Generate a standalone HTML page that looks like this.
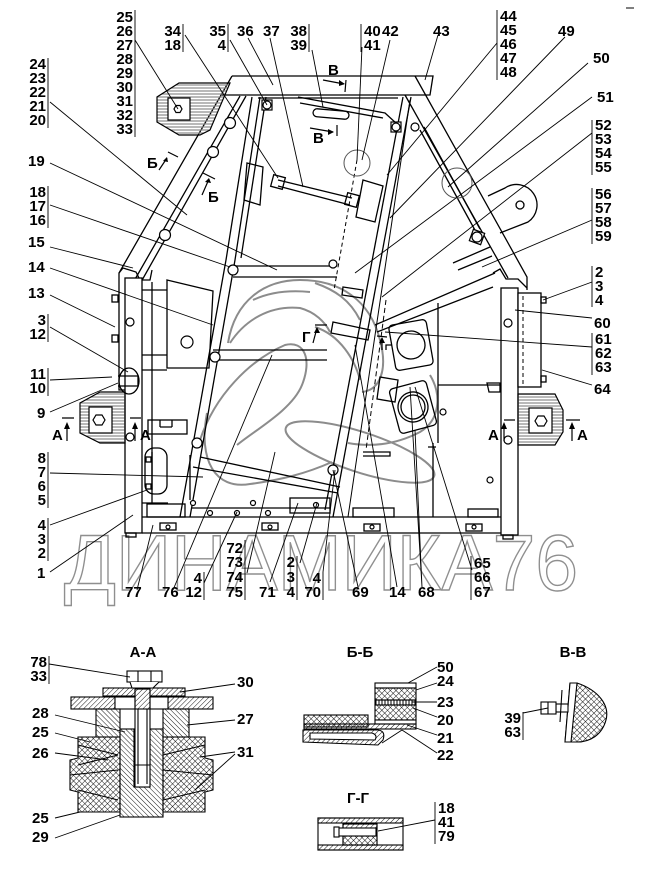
<!DOCTYPE html>
<html><head><meta charset="utf-8"><style>
html,body{margin:0;padding:0;background:#fff;}
svg{display:block;}
.t{font-family:"Liberation Sans",sans-serif;font-weight:bold;font-size:15px;fill:#000;}
</style></head><body>
<svg width="645" height="878" viewBox="0 0 645 878" xmlns="http://www.w3.org/2000/svg">
<defs>
<pattern id="h1" width="3.5" height="3.5" patternUnits="userSpaceOnUse" patternTransform="rotate(45)"><line x1="0" y1="0" x2="0" y2="3.5" stroke="#000" stroke-width="0.9"/></pattern>
<pattern id="h2" width="3.5" height="3.5" patternUnits="userSpaceOnUse" patternTransform="rotate(-45)"><line x1="0" y1="0" x2="0" y2="3.5" stroke="#000" stroke-width="0.9"/></pattern>
<pattern id="hx" width="4" height="4" patternUnits="userSpaceOnUse" patternTransform="rotate(45)"><line x1="0" y1="0" x2="0" y2="4" stroke="#000" stroke-width="0.9"/><line x1="0" y1="0" x2="4" y2="0" stroke="#000" stroke-width="0.9"/></pattern>
<pattern id="gh" width="4" height="3" patternUnits="userSpaceOnUse"><line x1="0" y1="1" x2="4" y2="1" stroke="#8a8a8a" stroke-width="1.2"/></pattern>
<pattern id="vs" width="3" height="4" patternUnits="userSpaceOnUse"><line x1="1" y1="0" x2="1" y2="4" stroke="#000" stroke-width="1"/></pattern>
</defs>

<!-- watermark -->
<text x="64" y="590" font-family="Liberation Sans" font-size="79" textLength="514" lengthAdjust="spacingAndGlyphs" fill="none" stroke="#8f8f8f" stroke-width="1.4">ДИНАМИКА76</text>

<!-- gray swirl logo -->
<g fill="none" stroke="#8c8c8c" stroke-width="2">
<path d="M228,343 C235,300 265,280 300,280 C340,280 370,300 380,340 C388,370 380,390 362,392"/>
<path d="M230,343 C245,320 270,305 300,308 C315,312 325,322 330,332"/>
<path d="M200,440 C215,395 250,360 285,345 C305,340 312,360 302,385 C292,410 255,430 237,445"/>
<path d="M207,413 C198,460 215,490 250,484 C280,480 305,474 332,462"/>
<ellipse cx="360" cy="452" rx="78" ry="20" transform="rotate(18 360 452)"/>
<path d="M315,283 C335,290 350,300 360,320 M315,327 C340,335 355,360 360,380"/>
<path d="M348,443 C370,447 395,445 420,432 C440,420 442,395 430,375"/>
<path d="M253,300 C270,292 290,290 310,292"/>
</g>

<!-- main frame -->
<g stroke="#000" stroke-width="1.3" fill="none">
<path d="M232,76 H433 L430,95 H222"/>
<path d="M232,76 L119,273 L119,390 H125"/>
<path d="M240,96 L134,281 M246,96 L141,282"/>
<path d="M119,273 L123,268 L136,272 L140,280 L150,280 L152,270"/>
<path d="M252,97 L226,260 L180,517"/>
<path d="M260,97 L235,260 L190,517"/>
<path d="M266,97 L241,258"/>
<path d="M190,455 V500"/>
<path d="M258,98 H398"/>
<path d="M403,97 L325,510"/>
<path d="M411,97 L333,517"/>
<path d="M410,100 L348,517" stroke-width="1"/>
<path d="M386,300 L366,450" stroke-width="1" stroke-dasharray="5 3"/>
<path d="M415,76 L527,277 L527,290"/>
<path d="M405,95 L508,278"/>
<path d="M420,130 L476,232 M424,127 L480,229"/>
<path d="M493,273 L500,269 L506,279 L518,279 L527,288"/>
<rect x="125" y="278" width="17" height="255" fill="#fff"/>
<rect x="501" y="288" width="17" height="247" fill="#fff"/>
<rect x="518" y="293" width="23" height="94" fill="#fff"/>
<path d="M523,296 V384" stroke-dasharray="4 3" stroke-width="1"/>
<rect x="541" y="297" width="5" height="6"/><rect x="541" y="376" width="5" height="6"/>
<rect x="112" y="295" width="6" height="7"/><rect x="112" y="335" width="6" height="7"/>
<rect x="126" y="533" width="10" height="4"/><rect x="503" y="535" width="10" height="4"/>
<path d="M142,517 H501 M142,533 H501 M192,508 H330 M142,503 H168"/>
<path d="M375,325 L495,273 M377,332 L493,287 M438,303 V443 M438,385 H501 M433,443 V517 M428,447 H436"/>
<path d="M487,383 H500 V392 H489 Z"/>
<path d="M363,452 H390 V456 H363"/>
<path d="M453,263 L490,247 M458,270 L492,256"/>
<path d="M152,282 V503 M142,290 H167 M142,355 H167 M142,370 H167"/>
<path d="M167,280 L213,291 L209,368 L167,368 Z"/>
<path d="M233,266 H337 M233,277 H337"/>
<path d="M213,350 H327 M213,360 H327"/>
<path d="M200,457 L340,487 M193,467 L338,493"/>
<path d="M298,97 L385,113 L397,124 M300,103 L383,118"/>
<rect x="313" y="110" width="36" height="8" rx="4" transform="rotate(5 331 114)"/>
<path d="M278,180 L352,198 M278,186 L350,205"/>
<rect x="272" y="176" width="12" height="12" transform="rotate(15 278 182)"/>
<rect x="346" y="194" width="12" height="12" transform="rotate(15 352 200)"/>
<path d="M247,163 L263,167 L260,205 L244,200 Z"/>
<path d="M363,180 L383,186 L375,222 L356,217 Z"/>
<path d="M380,377 L398,380 L395,402 L377,399 Z"/>
<path d="M333,322 L370,330 L368,340 L331,333 Z"/>
<path d="M343,287 L363,290 L362,298 L342,295 Z"/>
<path d="M488,196 L505,188 A18,18 0 0 1 528,222 L500,233"/>
<circle cx="520" cy="205" r="4"/>
<ellipse cx="129" cy="381" rx="10" ry="13"/>
<path d="M118,376 H138 V386 H118"/>
<rect x="145" y="448" width="22" height="46" rx="9"/>
<path d="M152,452 V490"/>
<rect x="146" y="457" width="5" height="5"/><rect x="146" y="484" width="5" height="5"/>
<rect x="148" y="420" width="39" height="14"/>
<path d="M160,427 V420 M172,427 V420 M160,427 H172"/>
<rect x="147" y="504" width="38" height="13"/>
<rect x="290" y="498" width="40" height="15"/>
<path d="M295,508 H330" stroke-dasharray="4 3" stroke-width="1"/>
<rect x="353" y="508" width="41" height="9"/>
<rect x="468" y="509" width="30" height="8"/>
<rect x="160" y="523" width="16" height="7"/>
<rect x="262" y="523" width="16" height="7"/>
<rect x="364" y="524" width="16" height="7"/>
<rect x="466" y="524" width="16" height="7"/>
<g transform="translate(411,345) rotate(-10)"><rect x="-19" y="-23" width="38" height="46" rx="4"/><circle r="14"/></g>
<g transform="translate(413,407) rotate(-15)"><rect x="-19" y="-23" width="38" height="46" rx="4"/><circle r="15"/><circle r="12"/></g>
<path d="M357,160 L334,290" stroke-dasharray="4 3" stroke-width="1"/>
<path d="M386,350 L386,345 L392,345"/>
</g>

<g stroke="#000" stroke-width="1.2" fill="#fff">
<circle cx="230" cy="123" r="5.5"/><circle cx="213" cy="152" r="5.5"/><circle cx="165" cy="235" r="5.5"/>
<rect x="262" y="100" width="10" height="10"/><circle cx="267" cy="105" r="4"/>
<rect x="391" y="122" width="10" height="10"/><circle cx="396" cy="127" r="4"/>
<circle cx="415" cy="127" r="4"/>
<rect x="471" y="231" width="12" height="12" transform="rotate(20 477 237)"/><circle cx="477" cy="237" r="5"/>
<circle cx="233" cy="270" r="5"/><circle cx="215" cy="357" r="5"/><circle cx="197" cy="443" r="5"/>
<circle cx="333" cy="470" r="5"/><circle cx="333" cy="264" r="4"/>
<circle cx="130" cy="322" r="4"/><circle cx="130" cy="437" r="4"/>
<circle cx="508" cy="323" r="4"/><circle cx="508" cy="440" r="4"/>
<circle cx="187" cy="342" r="6"/>
<circle cx="443" cy="412" r="3"/><circle cx="490" cy="480" r="3"/>
<circle cx="168" cy="527" r="2"/><circle cx="270" cy="527" r="2"/><circle cx="372" cy="527" r="2"/><circle cx="474" cy="527" r="2"/>
<circle cx="210" cy="513" r="2.5"/><circle cx="237" cy="513" r="2.5"/><circle cx="268" cy="513" r="2.5"/>
<circle cx="193" cy="503" r="2.5"/><circle cx="253" cy="503" r="2.5"/><circle cx="316" cy="505" r="2.5"/>
</g>
<g fill="none" stroke="#555" stroke-width="1">
<circle cx="357" cy="163" r="13"/>
<circle cx="457" cy="183" r="15"/>
</g>

<g stroke="#000" stroke-width="1.2">
<path d="M179,83 L230,83 L210,130 L200,135 L179,135 L157,122 L157,97 Z" fill="url(#gh)"/>
<rect x="168" y="98" width="22" height="22" fill="#fff"/>
<polygon points="182,109 180,112.5 176,112.5 174,109 176,105.5 180,105.5" fill="#fff"/>
<path d="M100,392 L125,392 L125,443 L100,443 L80,433 L80,403 Z" fill="url(#gh)"/>
<rect x="89" y="407" width="23" height="26" fill="#fff"/>
<polygon points="105,420 102,425 96,425 93,420 96,415 102,415" fill="#fff"/>
<path d="M518,394 L555,394 L563,410 L563,432 L555,445 L518,445 Z" fill="url(#gh)"/>
<rect x="529" y="408" width="23" height="25" fill="#fff"/>
<polygon points="547,421 544,426 538,426 535,421 538,416 544,416" fill="#fff"/>
</g>

<g stroke="#000" stroke-width="1.2" fill="none">
<path d="M159,170 L167,158 M168,152 L178,157"/>
<path d="M202,195 L209,179 M203,173 L215,179"/>
<path d="M323,80 L344,84 M346,80 L345,92"/>
<path d="M310,128 L333,132 M337,125 L337,136"/>
<path d="M313,343 L317,328 M315,325 L327,325"/>
<path d="M382,350 L382,338 M377,336 L387,337"/>
<path d="M67,441 V424 M62,418 H74"/>
<path d="M135,441 V424 M130,418 H141"/>
<path d="M504,441 V424 M504,420 H515"/>
<path d="M572,441 V424 M566,420 H580"/>
</g>
<g fill="#000">
<path d="M167,157 L163,161 L168,162 Z"/><path d="M209,178 L205,182 L211,183 Z"/>
<path d="M345,84 L339,80 L339,86 Z"/><path d="M334,132 L328,129 L328,135 Z"/>
<path d="M317,327 L314,333 L320,333 Z"/><path d="M382,337 L379,343 L385,343 Z"/>
<path d="M67,422 L64,429 L70,429 Z"/><path d="M135,422 L132,429 L138,429 Z"/>
<path d="M504,422 L501,429 L507,429 Z"/><path d="M572,422 L569,429 L575,429 Z"/>
</g>
<g class="t">
<text x="147" y="168" class="t">Б</text><text x="208" y="202" class="t">Б</text>
<text x="328" y="75" class="t">В</text><text x="313" y="143" class="t">В</text>
<text x="302" y="342" class="t">Г</text>
<text x="52" y="440" class="t">А</text><text x="140" y="440" class="t">А</text>
<text x="488" y="440" class="t">А</text><text x="577" y="440" class="t">А</text>
</g>

<g stroke="#000" stroke-width="0.9" fill="none">
<path d="M135,40 L178,109"/>
<path d="M185,35 L278,178"/>
<path d="M230,40 L267,105"/>
<path d="M248,38 L273,85"/>
<path d="M270,38 L303,187"/>
<path d="M312,50 L323,107"/>
<path d="M50,102 L187,215"/>
<path d="M50,163 L277,270"/>
<path d="M50,205 L230,267"/>
<path d="M50,247 L133,268"/>
<path d="M50,268 L213,325"/>
<path d="M50,295 L115,327"/>
<path d="M50,327 L128,372"/>
<path d="M50,380 L112,377"/>
<path d="M50,412 L118,383"/>
<path d="M50,473 L203,477"/>
<path d="M50,525 L147,490"/>
<path d="M50,572 L133,515"/>
<path d="M137,590 L153,525"/>
<path d="M173,590 L272,355"/>
<path d="M204,583 L237,512"/>
<path d="M247,573 L275,452"/>
<path d="M270,582 L298,503"/>
<path d="M300,563 L317,503"/>
<path d="M323,572 L335,470"/>
<path d="M358,587 L333,470"/>
<path d="M397,587 L355,345"/>
<path d="M422,587 L415,430 M422,587 L410,387"/>
<path d="M472,570 L415,387"/>
<path d="M362,47 L357,160"/>
<path d="M390,40 L362,160"/>
<path d="M438,35 L425,80"/>
<path d="M497,43 L387,175"/>
<path d="M565,37 L390,218"/>
<path d="M588,63 L448,187"/>
<path d="M592,97 L355,273"/>
<path d="M592,133 L382,297"/>
<path d="M592,220 L482,267"/>
<path d="M592,282 L543,300"/>
<path d="M592,318 L515,310"/>
<path d="M592,347 L385,332"/>
<path d="M592,385 L542,370"/>
<path d="M135,10 V137 M183,24 V52 M228,24 V52 M309,24 V52 M361,24 V52 M497,10 V80 M592,120 V175 M592,188 V244 M592,266 V307 M592,333 V375 M471,556 V600 M323,572 V600 M297,556 V600 M245,540 V600 M204,572 V600 M48,58 V128 M48,186 V228 M48,314 V342 M48,368 V396 M48,452 V508 M48,518 V561"/>
</g>

<g class="t">
<g text-anchor="end">
<text x="133" y="22">25</text><text x="133" y="36">26</text><text x="133" y="50">27</text><text x="133" y="64">28</text><text x="133" y="78">29</text><text x="133" y="92">30</text><text x="133" y="106">31</text><text x="133" y="120">32</text><text x="133" y="134">33</text>
<text x="181" y="36">34</text><text x="181" y="50">18</text>
<text x="226" y="36">35</text><text x="226" y="50">4</text>
<text x="307" y="36">38</text><text x="307" y="50">39</text>
<text x="46" y="69">24</text><text x="46" y="83">23</text><text x="46" y="97">22</text><text x="46" y="111">21</text><text x="46" y="125">20</text>
<text x="46" y="197">18</text><text x="46" y="211">17</text><text x="46" y="225">16</text>
<text x="46" y="325">3</text><text x="46" y="339">12</text>
<text x="46" y="379">11</text><text x="46" y="393">10</text>
<text x="46" y="463">8</text><text x="46" y="477">7</text><text x="46" y="491">6</text><text x="46" y="505">5</text>
<text x="46" y="530">4</text><text x="46" y="544">3</text><text x="46" y="558">2</text>
<text x="321" y="583">4</text><text x="321" y="597">70</text>
<text x="295" y="567">2</text><text x="295" y="582">3</text><text x="295" y="597">4</text>
<text x="243" y="553">72</text><text x="243" y="567">73</text><text x="243" y="582">74</text><text x="243" y="597">75</text>
<text x="202" y="583">4</text><text x="202" y="597">12</text>
</g>
<text x="237" y="36">36</text><text x="263" y="36">37</text>
<text x="364" y="36">40</text><text x="364" y="50">41</text>
<text x="382" y="36">42</text><text x="433" y="36">43</text>
<text x="500" y="21">44</text><text x="500" y="35">45</text><text x="500" y="49">46</text><text x="500" y="63">47</text><text x="500" y="77">48</text>
<text x="558" y="36">49</text><text x="593" y="63">50</text><text x="597" y="102">51</text>
<text x="595" y="130">52</text><text x="595" y="144">53</text><text x="595" y="158">54</text><text x="595" y="172">55</text>
<text x="595" y="199">56</text><text x="595" y="213">57</text><text x="595" y="227">58</text><text x="595" y="241">59</text>
<text x="595" y="277">2</text><text x="595" y="291">3</text><text x="595" y="305">4</text>
<text x="594" y="328">60</text>
<text x="595" y="344">61</text><text x="595" y="358">62</text><text x="595" y="372">63</text>
<text x="594" y="394">64</text>
<text x="474" y="568">65</text><text x="474" y="582">66</text><text x="474" y="597">67</text>
<text x="418" y="597">68</text><text x="389" y="597">14</text><text x="352" y="597">69</text>
<text x="259" y="597">71</text><text x="162" y="597">76</text><text x="125" y="597">77</text>
<text x="28" y="166">19</text><text x="28" y="247">15</text><text x="28" y="272">14</text><text x="28" y="298">13</text>
<text x="37" y="418">9</text><text x="37" y="578">1</text>
</g>

<g class="t"><text x="143" y="657" text-anchor="middle">А-А</text>
<text x="47" y="667" text-anchor="end">78</text><text x="47" y="681" text-anchor="end">33</text>
<text x="237" y="687">30</text><text x="32" y="718">28</text><text x="237" y="724">27</text>
<text x="32" y="737">25</text><text x="32" y="758">26</text><text x="237" y="757">31</text>
<text x="32" y="823">25</text><text x="32" y="842">29</text></g>
<g stroke="#000" stroke-width="1.1">
<rect x="103" y="688" width="82" height="8" fill="url(#h1)"/>
<rect x="71" y="697" width="44" height="12" fill="url(#h1)"/>
<rect x="168" y="697" width="45" height="12" fill="url(#h1)"/>
<rect x="115" y="697" width="53" height="12" fill="#fff"/>
<rect x="96" y="709" width="24" height="28" fill="url(#h2)"/>
<rect x="163" y="709" width="26" height="28" fill="url(#h2)"/>
<rect x="120" y="729" width="43" height="88" fill="url(#h2)"/>
<rect x="134" y="729" width="16" height="58" fill="#fff"/>
<path d="M78,737 H120 V812 H78 V792 L70,790 V760 L78,758 Z" fill="url(#hx)"/>
<path d="M163,737 H205 V758 L213,760 V790 L205,792 V812 H163 Z" fill="url(#hx)"/>
<path d="M78,745 L118,755 L78,765 M78,790 L118,800 M163,755 L205,745 M163,800 L205,790 M70,775 L118,770 M163,770 L213,775" fill="none"/>
<rect x="135" y="689" width="15" height="98" fill="#fff"/>
<rect x="135" y="689" width="15" height="20" fill="url(#h1)"/>
<path d="M138,709 V784 M147,709 V784 M135,765 H150" fill="none"/>
<rect x="127" y="671" width="35" height="11" fill="#fff"/>
<path d="M138,671 V682 M151,671 V682 M130,682 L132,688 H153 L159,682" fill="#fff"/>
</g>
<g stroke="#000" stroke-width="0.9" fill="none">
<path d="M49,656 V684 M49,664 L130,677 M235,684 L180,692 M55,715 L125,732 M235,720 L187,725 M55,733 L90,742 M55,753 L108,760 M235,752 L200,757 M235,754 L195,790 M55,818 L80,812 M55,838 L120,815"/>
</g>

<g class="t"><text x="360" y="657" text-anchor="middle">Б-Б</text>
<text x="437" y="672">50</text><text x="437" y="686">24</text><text x="437" y="707">23</text>
<text x="437" y="725">20</text><text x="437" y="743">21</text><text x="437" y="760">22</text></g>
<g stroke="#000" stroke-width="1.1">
<rect x="304" y="715" width="64" height="12" fill="url(#hx)"/>
<rect x="375" y="683" width="41" height="5" fill="#fff"/>
<rect x="375" y="688" width="41" height="12" fill="url(#hx)"/>
<rect x="375" y="700" width="41" height="5" fill="url(#vs)"/>
<rect x="375" y="705" width="41" height="15" fill="url(#hx)"/>
<rect x="375" y="720" width="41" height="4" fill="#fff"/>
<rect x="304" y="724" width="112" height="5" fill="url(#h1)"/>
<path d="M303,730 H378 Q386,731 383,740 L378,745 L303,742 Z" fill="url(#h1)"/>
<path d="M310,733 H372 Q378,735 375,740 L310,739 Z" fill="#fff"/>
</g>
<g stroke="#000" stroke-width="0.9" fill="none">
<path d="M437,667 L408,683 M437,683 L416,690 M437,702 L412,702 M437,717 L413,708 M437,735 L407,725 M437,753 L402,730 M402,730 L382,743"/>
</g>

<g class="t"><text x="573" y="657" text-anchor="middle">В-В</text>
<text x="521" y="723" text-anchor="end">39</text><text x="521" y="737" text-anchor="end">63</text></g>
<g stroke="#000" stroke-width="1.1">
<path d="M570,683 L577,683 C598,690 610,705 606,720 C602,735 590,742 577,742 L565,742 Z" fill="url(#hx)"/>
<path d="M570,683 L565,742 L571,742 L577,683 Z" fill="#fff"/>
<rect x="556" y="704" width="12" height="8" fill="#fff"/>
<rect x="541" y="702" width="15" height="12" fill="#fff"/>
<path d="M548,702 V714 M562,690 L560,722" fill="none"/>
</g>
<g stroke="#000" stroke-width="0.9" fill="none"><path d="M523,712 V740 M523,713 L548,708"/></g>

<g class="t"><text x="358" y="803" text-anchor="middle">Г-Г</text>
<text x="438" y="813">18</text><text x="438" y="827">41</text><text x="438" y="841">79</text></g>
<g stroke="#000" stroke-width="1.1">
<rect x="318" y="818" width="85" height="32" fill="#fff"/>
<rect x="318" y="818" width="85" height="5" fill="url(#h1)"/>
<rect x="318" y="845" width="85" height="5" fill="url(#h1)"/>
<rect x="343" y="824" width="34" height="21" fill="#fff"/>
<rect x="343" y="836" width="34" height="9" fill="url(#hx)"/>
<rect x="343" y="824" width="34" height="5" fill="url(#h1)"/>
<rect x="338" y="828" width="38" height="8" fill="#fff"/>
<rect x="334" y="827" width="5" height="10" fill="#fff"/>
</g>
<g stroke="#000" stroke-width="0.9" fill="none"><path d="M435,802 V844 M435,820 L378,831"/></g>

<path d="M626,8 H634" stroke="#000" stroke-width="1"/>
</svg>
</body></html>
